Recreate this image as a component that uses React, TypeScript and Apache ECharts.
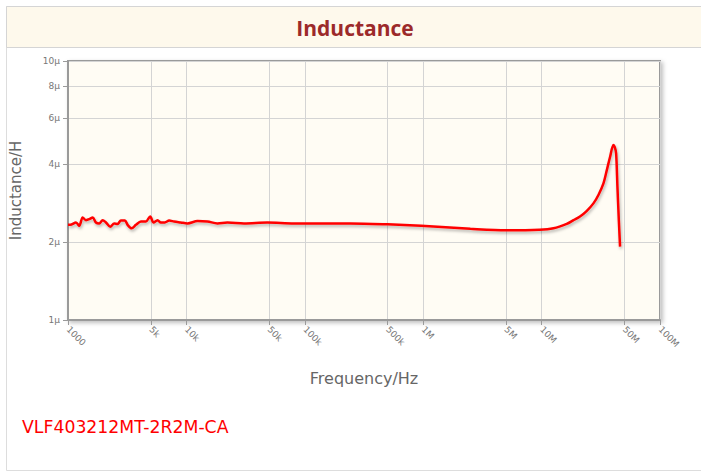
import React, { useEffect, useRef } from "react";
import * as echarts from "echarts";

const freqHz = [
  1000, 1045, 1168, 1245, 1330, 1418, 1512, 1616, 1722, 1836, 1962, 2091, 2274, 2457, 2625, 2798, 3024, 3187,
  3444, 3745, 4126, 4547, 4943, 5280, 5706, 6083, 6575, 7149, 7878, 8970, 10220, 12410, 15070, 18290,
  22210, 30650, 48290, 80930, 111900, 243000, 500000, 960000, 2500000, 5000000, 9600000, 12600000,
  16300000, 18600000, 21100000, 24100000, 27400000, 30200000, 33300000, 35600000, 37900000, 40400000,
  41500000, 42600000, 43700000, 44900000, 46000000,
];
const inductanceMicroH = [
  2.33, 2.33, 2.38, 2.31, 2.49, 2.43, 2.45, 2.49, 2.38, 2.36, 2.43, 2.38, 2.29, 2.36, 2.35, 2.42, 2.42, 2.33,
  2.26, 2.33, 2.4, 2.4, 2.51, 2.38, 2.43, 2.38, 2.38, 2.42, 2.4, 2.38, 2.36, 2.41, 2.4, 2.36,
  2.38, 2.36, 2.38, 2.36, 2.36, 2.36, 2.34, 2.31, 2.25, 2.22, 2.23, 2.26,
  2.35, 2.43, 2.51, 2.64, 2.82, 3.04, 3.37, 3.8, 4.27, 4.74,
  4.65, 4.4, 3.27, 2.43, 1.92,
];
const xTickValues = [1e3, 5e3, 1e4, 5e4, 1e5, 5e5, 1e6, 5e6, 1e7, 5e7, 1e8];
const xTickLabels = ["1000", "5k", "10k", "50k", "100k", "500k", "1M", "5M", "10M", "50M", "100M"];
const yTickValues = [1, 2, 4, 6, 8, 10];
const yTickLabels = ["1µ", "2µ", "4µ", "6µ", "8µ", "10µ"];
const titleText = "Inductance";
const xName = "Frequency/Hz";
const yName = "Inductance/H";
const partName = "VLF403212MT-2R2M-CA";

const lookup = (vals: number[], labels: string[]) => (v: number) => {
  for (let i = 0; i < vals.length; i++) {
    if (Math.abs(Math.log10(vals[i]) - v) < 1e-6) return labels[i];
  }
  return "";
};

export default function App() {
  const ref = useRef<HTMLDivElement>(null);
  useEffect(() => {
    if (!ref.current) return;
    const chart = echarts.init(ref.current, null, { renderer: "svg" });
    const data = freqHz.map((f, i) => [Math.log10(f), Math.log10(inductanceMicroH[i])]);
    const font = "DejaVu Sans, Verdana, sans-serif";
    chart.setOption({
      animation: false,
      backgroundColor: "#ffffff",
      graphic: [
        {
          type: "rect",
          shape: { x: 6.5, y: 6.5, width: 700, height: 464 },
          style: { fill: "none", stroke: "#dddddd", lineWidth: 1 },
          z: -10,
        },
        {
          type: "rect",
          shape: { x: 6.5, y: 6.5, width: 700, height: 41 },
          style: { fill: "#fef9ec", stroke: "#d5d5d5", lineWidth: 1 },
          z: -9,
        },
        {
          type: "text",
          x: 355,
          y: 28,
          style: {
            text: titleText,
            fill: "#9c2a2a",
            fontSize: 21,
            fontWeight: "bold",
            fontFamily: "Open Sans",
            align: "center",
            verticalAlign: "middle",
          },
        },
        {
          type: "text",
          x: 22,
          y: 418,
          style: { text: partName, fill: "#ff0000", fontSize: 17.3, fontFamily: font },
        },
      ],
      grid: {
        left: 67,
        top: 61,
        right: 41,
        bottom: 152,
        show: true,
        backgroundColor: "#fffcf4",
        borderColor: "#9a9a9a",
        borderWidth: 2,
        shadowColor: "rgba(0,0,0,0.25)",
        shadowBlur: 4,
        shadowOffsetX: 2,
        shadowOffsetY: 2,
      },
      xAxis: {
        type: "value",
        min: 3,
        max: 8,
        name: xName,
        nameLocation: "middle",
        nameGap: 50,
        nameTextStyle: { fontSize: 16, color: "#666", fontFamily: font },
        axisLine: { show: true, lineStyle: { color: "#9a9a9a", width: 2 } },
        axisTick: { show: true, length: 5, lineStyle: { color: "#9a9a9a" }, customValues: xTickValues.map((v) => Math.log10(v)) },
        axisLabel: {
          customValues: xTickValues.map((v) => Math.log10(v)),
          formatter: lookup(xTickValues, xTickLabels),
          rotate: -45,
          fontSize: 9,
          color: "#777",
          fontFamily: font,
          margin: 8,
        },
        splitLine: { show: true, lineStyle: { color: "#d4d4d4", width: 1 } },
      },
      yAxis: {
        type: "value",
        min: 0,
        max: 1,
        name: yName,
        nameLocation: "middle",
        nameGap: 45,
        nameRotate: 90,
        nameTextStyle: { fontSize: 15, color: "#666", fontFamily: font },
        axisLine: { show: true, lineStyle: { color: "#9a9a9a", width: 2 } },
        axisTick: { show: true, length: 5, lineStyle: { color: "#9a9a9a" }, customValues: yTickValues.map((v) => Math.log10(v)) },
        axisLabel: {
          customValues: yTickValues.map((v) => Math.log10(v)),
          formatter: lookup(yTickValues, yTickLabels),
          fontSize: 9,
          color: "#777",
          fontFamily: font,
          margin: 8,
        },
        splitLine: { show: true, lineStyle: { color: "#d4d4d4", width: 1 } },
      },
      series: [
        {
          type: "line",
          data,
          showSymbol: false,
          smooth: 0.3,
          lineStyle: {
            color: "#ff0000",
            width: 2.5,
            shadowColor: "rgba(0,0,0,0.3)",
            shadowBlur: 3,
            shadowOffsetX: 1,
            shadowOffsetY: 2,
          },
        },
      ],
    });
    return () => chart.dispose();
  }, []);
  return <div ref={ref} style={{ position: "fixed", left: 0, top: 0, width: 701, height: 472 }} />;
}
